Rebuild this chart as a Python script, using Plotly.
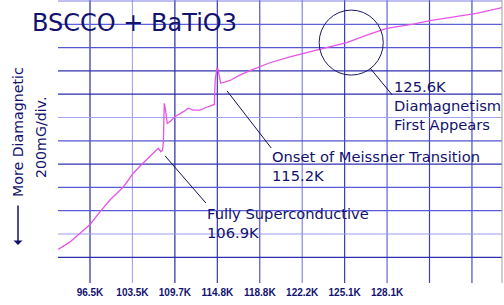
import plotly.graph_objects as go

# ---- data (x in grid divisions, y in 200 mG divisions) ----
curve_x = [-0.75, -0.47, -0.16, 0.00, 0.24, 0.47, 0.79, 1.02, 1.18, 1.41, 1.61, 1.67, 1.71,
           1.73, 1.74, 1.75, 1.78, 1.82, 1.89, 2.00, 2.20, 2.32, 2.43, 2.59, 2.75, 2.91, 2.93,
           2.95, 2.99, 3.01, 3.04, 3.08, 3.30, 3.53, 3.77, 4.24, 4.71, 5.03, 5.50, 6.05, 6.52,
           6.99, 7.62, 8.01, 8.64, 9.11, 9.71]
curve_y = [0.34, 0.66, 1.15, 1.41, 1.96, 2.46, 3.03, 3.61, 3.92, 4.35, 4.68, 4.53, 4.61,
           4.96, 6.32, 6.61, 6.32, 5.75, 5.83, 6.03, 6.25, 6.40, 6.32, 6.32, 6.44, 6.54, 6.56,
           7.61, 8.11, 8.11, 7.78, 7.47, 7.59, 7.82, 8.01, 8.35, 8.60, 8.76, 8.97, 9.21, 9.54,
           9.83, 10.01, 10.16, 10.33, 10.47, 10.72]

tick_positions = [0, 1, 2, 3, 4, 5, 6, 7]
tick_labels = ["96.5K", "103.5K", "109.7K", "114.8K", "118.8K", "122.2K", "125.1K", "128.1K"]

title_text = "BSCCO + BaTiO3"
notes = [
    ("125.6K<br>Diamagnetism<br>First Appears", 7.12, 6.50),
    ("Onset of Meissner Transition<br>115.2K", 4.24, 3.91),
    ("Fully Superconductive<br>106.9K", 2.72, 1.46),
]

# ---- styles ----
NAVY = "#12126e"
XR = [-0.754, 9.708]
YR = [-1.103, 11.043]
vgrid_colors = ["#2a2aa6", "#a8a8f2", "#2a2aa6", "#3636b4", "#5252d2",
                "#8484ea", "#3838b8", "#6262de", "#3e3ec0", "#4c4cca"]
hgrid_colors = ["#2e2eaa", "#9c9cee", "#5a5ad6", "#5a5ad6", "#3232b0", "#5454d2",
                "#a4a4f2", "#2c2ca8", "#3030ae", "#5656d4", "#6060dc", "#8080e8"]

fig = go.Figure()
fig.add_trace(go.Scatter(x=curve_x, y=curve_y, mode="lines",
                         line=dict(color="#e655e6", width=1.3), hoverinfo="skip"))

shapes = []
for i, c in enumerate(vgrid_colors):
    shapes.append(dict(type="line", xref="x", yref="paper", x0=i, x1=i, y0=0, y1=1,
                       line=dict(color=c, width=1.2), layer="below"))
for i, c in enumerate(hgrid_colors):
    shapes.append(dict(type="line", xref="paper", yref="y", x0=0, x1=1, y0=i, y1=i,
                       line=dict(color=c, width=1.2), layer="below"))
shapes.append(dict(type="line", xref="paper", yref="paper", x0=1, x1=1, y0=0, y1=1,
                   line=dict(color="#a0a0a0", width=1)))
# circle and leader lines
shapes.append(dict(type="circle", xref="x", yref="y", x0=5.40, x1=6.91, y0=7.82, y1=10.61,
                   line=dict(color="#1a1a60", width=1)))
for (x0, y0, x1, y1) in [(1.77, 4.35, 2.73, 2.33), (3.23, 7.14, 4.27, 4.69), (6.60, 8.12, 7.12, 6.97)]:
    shapes.append(dict(type="line", xref="x", yref="y", x0=x0, y0=y0, x1=x1, y1=y1,
                       line=dict(color="#101050", width=1)))

annotations = []
for txt, ax_, ay_ in notes:
    annotations.append(dict(text=txt, x=ax_, y=ay_, xref="x", yref="y", xanchor="left",
                            yanchor="middle", align="left", showarrow=False,
                            font=dict(family="DejaVu Sans", size=14.7, color=NAVY)))

def px(xp):
    return (xp - 58) / 444.0

def py(yp):
    return 1 - yp / 283.0

annotations.append(dict(text=title_text, x=px(30), y=py(23), xref="paper", yref="paper",
                        xanchor="left", yanchor="middle", showarrow=False,
                        font=dict(family="DejaVu Sans", size=24, color=NAVY)))
annotations.append(dict(text="More Diamagnetic", x=px(18), y=py(132), xref="paper", yref="paper",
                        textangle=-90, showarrow=False, xanchor="center", yanchor="middle",
                        font=dict(family="DejaVu Sans", size=14.2, color=NAVY)))
annotations.append(dict(text="200mG/div.", x=px(41), y=py(138), xref="paper", yref="paper",
                        textangle=-90, showarrow=False, xanchor="center", yanchor="middle",
                        font=dict(family="DejaVu Sans", size=14.2, color=NAVY)))
annotations.append(dict(text="", x=px(18), y=py(245), xref="paper", yref="paper",
                        showarrow=True, ax=0, ay=-41, arrowhead=1, arrowsize=1,
                        arrowwidth=1.5, arrowcolor=NAVY))

fig.update_layout(
    width=504, height=305,
    margin=dict(l=58, r=2, t=0, b=22),
    paper_bgcolor="white", plot_bgcolor="white",
    showlegend=False,
    shapes=shapes, annotations=annotations,
    xaxis=dict(range=XR, showgrid=False, zeroline=False, showline=False,
               tickmode="array", tickvals=tick_positions, ticktext=tick_labels,
               tickfont=dict(family="Liberation Sans", size=10, color=NAVY, weight="bold"),
               ticks="", ticklabelstandoff=2),
    yaxis=dict(range=YR, showgrid=False, zeroline=False, showline=False,
               showticklabels=False, ticks=""),
)

fig.write_html("out.html")
